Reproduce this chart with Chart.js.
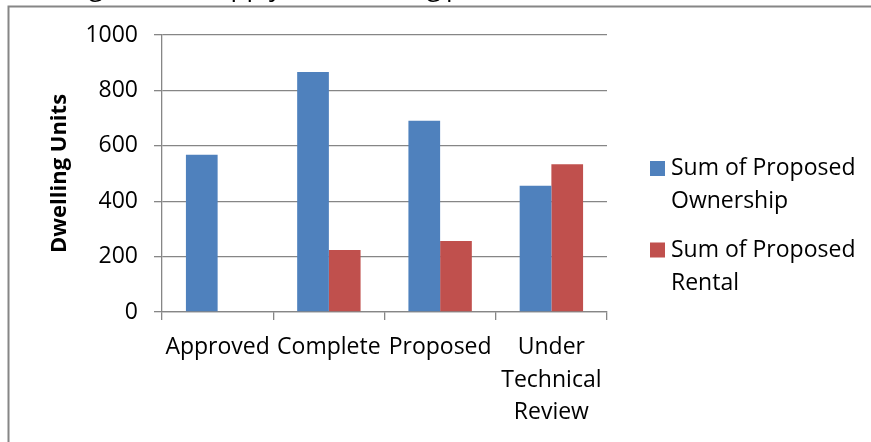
<!DOCTYPE html>
<html lang="en">
<head>
  <meta charset="UTF-8">
  <title>Dwelling Units by Status</title>
  <script src="https://cdn.jsdelivr.net/npm/chart.js"></script>
  <style>
    body { margin: 0; background: #fff; }
    #wrap { width: 871px; height: 442px; }
  </style>
</head>
<body>
  <div id="wrap"><canvas id="chart" width="871" height="442"></canvas></div>
  <script>
    const categories = ['Approved', 'Complete', 'Proposed', ['Under', 'Technical', 'Review']];
    const ownership = [568, 866, 690, 456];
    const rental = [null, 224, 256, 533];
    const seriesNames = [['Sum of Proposed', 'Ownership'], ['Sum of Proposed', 'Rental']];
    const yTicks = [0, 200, 400, 600, 800, 1000];

    const FONT = "'Open Sans', sans-serif";
    const GRAY = '#868686';

    // frame of the embedded chart plus the cut off heading above it
    const framePlugin = {
      id: 'frame',
      beforeDraw(chart) {
        const ctx = chart.ctx;
        ctx.save();
        ctx.fillStyle = '#000';
        ctx.font = '26px ' + FONT;
        ctx.textBaseline = 'alphabetic';
        ctx.textAlign = 'right';
        ctx.fillText('Housing', 103, -4);
        ctx.fillText('Unit Supply', 282, -4);
        ctx.fillText('in Planning', 441, -4);
        ctx.textAlign = 'left';
        ctx.fillText('process', 446, -4);
        ctx.strokeStyle = GRAY;
        ctx.lineWidth = 2;
        ctx.beginPath();
        ctx.moveTo(8.5, 445);
        ctx.lineTo(8.5, 6.5);
        ctx.lineTo(875, 6.5);
        ctx.stroke();
        ctx.restore();
      }
    };

    // legend with wrapped labels on the right
    const legendPlugin = {
      id: 'wrapLegend',
      afterDraw(chart) {
        const ctx = chart.ctx;
        ctx.save();
        ctx.font = '23px ' + FONT;
        ctx.textBaseline = 'middle';
        ctx.textAlign = 'left';
        const starts = [168.5, 250];
        chart.data.datasets.forEach((ds, i) => {
          const y0 = starts[i];
          ctx.fillStyle = ds.backgroundColor;
          ctx.fillRect(650, y0 - 7.5, 15, 15);
          ctx.fillStyle = '#000';
          seriesNames[i].forEach((line, j) => {
            ctx.fillText(line, 671, y0 + j * 33);
          });
        });
        ctx.restore();
      }
    };

    new Chart(document.getElementById('chart').getContext('2d'), {
      type: 'bar',
      data: {
        labels: categories,
        datasets: [
          { label: seriesNames[0].join(' '), data: ownership, backgroundColor: '#4F81BD' },
          { label: seriesNames[1].join(' '), data: rental, backgroundColor: '#C0504D' }
        ]
      },
      options: {
        responsive: false,
        animation: false,
        layout: { padding: { top: 35, left: 0, right: 264, bottom: 0 } },
        datasets: { bar: { categoryPercentage: 0.57, barPercentage: 1 } },
        scales: {
          x: {
            grid: { display: true, drawOnChartArea: false, color: GRAY, lineWidth: 1.3, tickLength: 8, offset: true },
            border: { display: true, color: GRAY, width: 1.3 },
            ticks: { color: '#000', font: { family: FONT, size: 23, lineHeight: 1.42 }, padding: 11, maxRotation: 0, autoSkip: false },
            afterFit(scale) { scale.height = 130; }
          },
          y: {
            min: 0,
            max: 1000,
            afterBuildTicks(scale) { scale.ticks = yTicks.map(v => ({ value: v })); },
            grid: { color: GRAY, lineWidth: 1.3, tickLength: 8 },
            border: { display: true, color: GRAY, width: 1.3 },
            ticks: { color: '#000', font: { family: FONT, size: 23 }, padding: 16, callback: v => String(v) },
            title: {
              display: true,
              text: 'Dwelling Units',
              color: '#000',
              font: { family: FONT, size: 22, weight: 'bold', lineHeight: 1.2 },
              padding: { top: 47, bottom: 0 }
            },
            afterFit(scale) { scale.width = 162; }
          }
        },
        plugins: {
          legend: { display: false },
          tooltip: { enabled: false }
        }
      },
      plugins: [framePlugin, legendPlugin]
    });
  </script>
</body>
</html>
